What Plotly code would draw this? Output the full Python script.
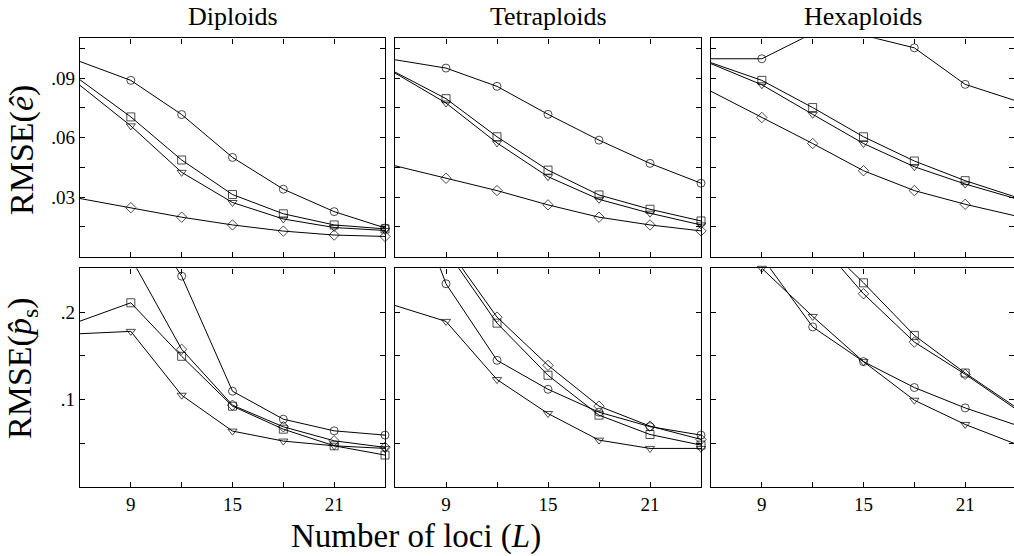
import plotly.graph_objects as go

# ---------------- data ----------------
L = [6, 9, 12, 15, 18, 21, 24]
panel_titles = ["Diploids", "Tetraploids", "Hexaploids"]
series_symbols = ["circle-open", "square-open", "triangle-down-open", "diamond-open"]

# RMSE(e-hat), top row
e_dip_circle = [0.0983, 0.0888, 0.0716, 0.0500, 0.0340, 0.0227, 0.0145]
e_dip_square = [0.0891, 0.0704, 0.0487, 0.0313, 0.0216, 0.0160, 0.0140]
e_dip_tri = [0.0863, 0.0659, 0.0425, 0.0273, 0.0190, 0.0147, 0.0132]
e_dip_diam = [0.0293, 0.0247, 0.0199, 0.0160, 0.0129, 0.0109, 0.0102]

e_tet_circle = [0.0992, 0.0950, 0.0858, 0.0717, 0.0587, 0.0470, 0.0370]
e_tet_square = [0.0930, 0.0796, 0.0604, 0.0436, 0.0311, 0.0239, 0.0180]
e_tet_tri = [0.0925, 0.0774, 0.0573, 0.0403, 0.0289, 0.0219, 0.0160]
e_tet_diam = [0.0458, 0.0395, 0.0333, 0.0261, 0.0199, 0.0160, 0.0130]

e_hex_circle = [0.0997, 0.0997, 0.1125, 0.1115, 0.1052, 0.0868, 0.0785]
e_hex_square = [0.0977, 0.0888, 0.0751, 0.0604, 0.0482, 0.0383, 0.0300]
e_hex_tri = [0.0972, 0.0866, 0.0717, 0.0570, 0.0453, 0.0366, 0.0292]
e_hex_diam = [0.0833, 0.0701, 0.0570, 0.0433, 0.0333, 0.0264, 0.0205]

# RMSE(p-hat_s), bottom row
p_dip_circle = [0.420, 0.331, 0.241, 0.1095, 0.0775, 0.0642, 0.0593]
p_dip_square = [0.1896, 0.2106, 0.1494, 0.0924, 0.0661, 0.0471, 0.0365]
p_dip_tri = [0.1752, 0.1779, 0.1049, 0.0639, 0.0525, 0.0471, 0.0441]
p_dip_diam = [0.350, 0.262, 0.1574, 0.0935, 0.0688, 0.0528, 0.0453]

p_tet_circle = [0.388, 0.2323, 0.1448, 0.1117, 0.0855, 0.0690, 0.0593]
p_tet_square = [0.360, 0.271, 0.1873, 0.1277, 0.0821, 0.0600, 0.0479]
p_tet_tri = [0.2075, 0.1893, 0.1228, 0.0840, 0.0536, 0.0441, 0.0441]
p_tet_diam = [0.370, 0.276, 0.1942, 0.1391, 0.0924, 0.0696, 0.0544]

p_hex_circle = [0.340, 0.263, 0.183, 0.1433, 0.1137, 0.0904, 0.0708]
p_hex_square = [0.420, 0.360, 0.290, 0.2334, 0.1733, 0.1303, 0.0910]
p_hex_tri = [0.330, 0.250, 0.195, 0.1433, 0.0992, 0.0715, 0.0490]
p_hex_diam = [0.410, 0.350, 0.288, 0.2209, 0.1657, 0.1289, 0.0890]

e_ticks = [0.015, 0.03, 0.045, 0.06, 0.075, 0.09, 0.105]
e_ticktext = [" ", ".03", " ", ".06", " ", ".09", " "]
p_ticks = [0.05, 0.1, 0.15, 0.2]
p_ticktext = [" ", ".1", " ", ".2"]
x_ticks = [9, 12, 15, 18, 21]
x_ticktext = ["9", " ", "15", " ", "21"]

panels = [
    [[e_dip_circle, e_dip_square, e_dip_tri, e_dip_diam],
     [e_tet_circle, e_tet_square, e_tet_tri, e_tet_diam],
     [e_hex_circle, e_hex_square, e_hex_tri, e_hex_diam]],
    [[p_dip_circle, p_dip_square, p_dip_tri, p_dip_diam],
     [p_tet_circle, p_tet_square, p_tet_tri, p_tet_diam],
     [p_hex_circle, p_hex_square, p_hex_tri, p_hex_diam]],
]

# ---------------- layout geometry ----------------
W, H = 1014, 556
FONT = "'Liberation Serif', 'Times New Roman', 'DejaVu Serif', serif"
col_px = [(80, 385), (395, 701), (711, 1014)]
row_px = [(38.3, 256.7), (268.3, 487.0)]
ymax = [0.11, 0.25]
px_per_unit = (385 - 80) / 18.0
x_ranges = [[6, 24], [6, 24], [6, 6 + (1014 - 711) / px_per_unit]]

fig = go.Figure()
layout = dict(
    width=W, height=H,
    margin=dict(l=0, r=0, t=0, b=0),
    paper_bgcolor="white", plot_bgcolor="white",
    showlegend=False,
    font=dict(family=FONT, color="black"),
)

axis_common = dict(
    showline=True, linecolor="black", linewidth=1.4, mirror="ticks",
    ticks="inside", ticklen=5, tickwidth=1, tickcolor="black",
    showgrid=False, zeroline=False,
    tickfont=dict(family=FONT, size=19, color="black"),
)

for r in range(2):
    for c in range(3):
        idx = r * 3 + c + 1
        xa = "x" if idx == 1 else f"x{idx}"
        ya = "y" if idx == 1 else f"y{idx}"
        xkey = "xaxis" if idx == 1 else f"xaxis{idx}"
        ykey = "yaxis" if idx == 1 else f"yaxis{idx}"
        x0, x1 = col_px[c]
        y0, y1 = row_px[r]
        layout[xkey] = dict(
            axis_common,
            domain=[x0 / W, x1 / W], anchor=ya,
            range=x_ranges[c],
            tickvals=x_ticks, ticktext=x_ticktext,
            showticklabels=(r == 1),
        )
        layout[ykey] = dict(
            axis_common,
            domain=[1 - y1 / H, 1 - y0 / H], anchor=xa,
            range=[0, ymax[r]],
            tickvals=e_ticks if r == 0 else p_ticks,
            ticktext=e_ticktext if r == 0 else p_ticktext,
            showticklabels=(c == 0),
        )
        for s, ys in enumerate(panels[r][c]):
            sizes = [8 if (x > L[0] and y <= ymax[r]) else 0 for x, y in zip(L, ys)]
            fig.add_trace(go.Scatter(
                x=L, y=ys, xaxis=xa, yaxis=ya,
                mode="lines+markers",
                line=dict(color="black", width=1),
                marker=dict(symbol=series_symbols[s], size=sizes,
                            color="black", line=dict(width=1, color="black")),
                cliponaxis=False,
                hoverinfo="skip",
            ))

annotations = []
for c, t in enumerate(panel_titles):
    annotations.append(dict(
        text=t, x=(col_px[c][0] + min(col_px[c][1], 1016)) / 2 / W, y=1 - 16 / H,
        xref="paper", yref="paper", showarrow=False,
        font=dict(family=FONT, size=26, color="black"),
        xanchor="center", yanchor="middle",
    ))
annotations.append(dict(
    text="Number of loci (<i>L</i>)", x=416 / W, y=1 - 536 / H,
    xref="paper", yref="paper", showarrow=False,
    font=dict(family=FONT, size=33, color="black"),
    xanchor="center", yanchor="middle",
))
annotations.append(dict(
    text="RMSE(<i>ê</i>)", x=22 / W, y=1 - 150 / H,
    xref="paper", yref="paper", showarrow=False, textangle=-90,
    font=dict(family=FONT, size=34, color="black"),
    xanchor="center", yanchor="middle",
))
annotations.append(dict(
    text="RMSE(<i>p\u0302</i><sub>s</sub>)", x=22 / W, y=1 - 368 / H,
    xref="paper", yref="paper", showarrow=False, textangle=-90,
    font=dict(family=FONT, size=34, color="black"),
    xanchor="center", yanchor="middle",
))
layout["annotations"] = annotations

fig.update_layout(**layout)
fig.write_html("out.html")
